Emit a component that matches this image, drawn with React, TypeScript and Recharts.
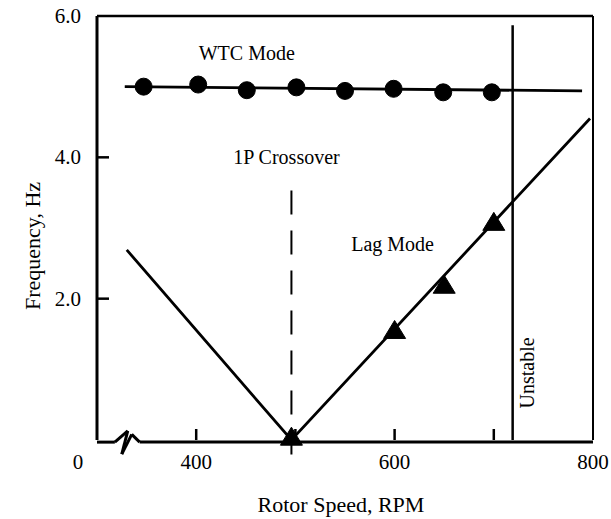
import React from 'react';
import { ComposedChart, Line, Scatter, XAxis, YAxis, ReferenceLine, ReferenceDot, Label } from 'recharts';

// ---- axis ticks ----
const rpmTicks = [300, 400, 500, 600, 700, 800];
const rpmTickLabels = ['0', '400', '', '600', '', '800'];
const freqTicks = [0, 2, 4, 6];
const freqTickLabels = ['', '2.0', '4.0', '6.0'];

// ---- WTC mode (measured points, circles) ----
const wtcRpm = [347, 402, 451, 501, 550, 599, 649, 698];
const wtcFreq = [5.0, 5.03, 4.95, 4.99, 4.94, 4.97, 4.92, 4.92];
// WTC fitted line
const wtcFitRpm = [328, 789];
const wtcFitFreq = [5.0, 4.94];

// ---- Lag mode ----
const lagRpm = [496, 600, 650, 700];
const lagFreq = [0.04, 1.55, 2.19, 3.08];
// 1P-crossing lag-mode line (V shape)
const lagLineRpm = [330, 496, 797];
const lagLineFreq = [2.69, 0, 4.55];

// ---- annotations ----
const crossoverRpm = 496;
const crossoverTop = 3.53;
const crossoverBottom = -0.24;
const unstableRpm = 719;
const unstableTop = 5.87;

// axis break (zig-zag) points on the RPM axis
const breakRpm = [300, 318, 331, 325, 335, 343, 800];
const breakFreq = [-0.03, -0.03, 0.13, -0.2, 0.08, -0.03, -0.03];

const FONT = '"Liberation Serif", "Times New Roman", serif';

const wtcData = wtcRpm.map((x, i) => ({ x, y: wtcFreq[i] }));
const wtcFitData = wtcFitRpm.map((x, i) => ({ x, y: wtcFitFreq[i] }));
const lagData = lagRpm.map((x, i) => ({ x, y: lagFreq[i] }));
const lagLineData = lagLineRpm.map((x, i) => ({ x, y: lagLineFreq[i] }));
const breakSegments = breakRpm.slice(1).map((x, i) => [
  { x: breakRpm[i], y: breakFreq[i] },
  { x, y: breakFreq[i + 1] },
]);

const XTick = (props: any) => {
  const { x, y, payload } = props;
  const v = payload.value;
  const label = rpmTickLabels[rpmTicks.indexOf(v)];
  const edge = v === rpmTicks[0] || v === rpmTicks[rpmTicks.length - 1];
  return (
    <g>
      {!edge && <line x1={x} x2={x} y1={y} y2={y - 11} stroke="#000" strokeWidth={2.5} />}
      <text x={v === rpmTicks[0] ? x - 19 : x} y={y + 29} textAnchor="middle" fontFamily={FONT} fontSize={21} fill="#000">
        {label}
      </text>
    </g>
  );
};

const YTick = (props: any) => {
  const { x, y, payload } = props;
  const v = payload.value;
  const label = freqTickLabels[freqTicks.indexOf(v)];
  const edge = v === freqTicks[0] || v === freqTicks[freqTicks.length - 1];
  return (
    <g>
      {!edge && <line x1={x} x2={x + 12} y1={y} y2={y} stroke="#000" strokeWidth={2.5} />}
      <text x={x - 16} y={y + 7} textAnchor="end" fontFamily={FONT} fontSize={21} fill="#000">
        {label}
      </text>
    </g>
  );
};

const YTitle = (props: any) => {
  const vb = props.viewBox;
  const cx = vb.x + 7;
  const cy = vb.y + vb.height / 2 + 18;
  return (
    <text transform={`translate(${cx},${cy}) rotate(-90)`} textAnchor="middle" fontFamily={FONT} fontSize={22} fill="#000">
      Frequency, Hz
    </text>
  );
};

const XTitle = (props: any) => {
  const vb = props.viewBox;
  return (
    <text x={vb.x + vb.width / 2 - 4} y={vb.y + 72} textAnchor="middle" fontFamily={FONT} fontSize={22} fill="#000">
      Rotor Speed, RPM
    </text>
  );
};

const renderDot = (props: any) => <circle cx={props.cx} cy={props.cy} r={8.5} fill="#000" stroke="#000" />;

const renderTri = (props: any) => {
  const { cx, cy } = props;
  const pts = `${cx},${cy - 10} ${cx + 11},${cy + 8} ${cx - 11},${cy + 8}`;
  return <polygon points={pts} fill="#000" stroke="#000" strokeWidth={1} />;
};

const textLabel = (value: string, angle = 0) => ({
  value,
  position: 'center' as const,
  angle,
  fontFamily: FONT,
  fontSize: 20,
  fill: '#000',
});

export default function App() {
  return (
    <div style={{ position: 'absolute', left: 0, top: 0, background: '#fff' }}>
      <ComposedChart width={611} height={519} margin={{ top: 16, right: 18, bottom: 49, left: 33 }}>
        <XAxis
          type="number"
          dataKey="x"
          domain={[300, 800]}
          ticks={rpmTicks}
          interval={0}
          tick={<XTick />}
          tickLine={false}
          axisLine={false}
          tickSize={0}
          tickMargin={0}
          height={30}
        >
          <Label content={<XTitle />} />
        </XAxis>
        <YAxis
          type="number"
          dataKey="y"
          domain={[0, 6]}
          ticks={freqTicks}
          interval={0}
          tick={<YTick />}
          tickLine={false}
          axisLine={{ stroke: '#000', strokeWidth: 3 }}
          tickSize={0}
          tickMargin={0}
          width={64}
        >
          <Label content={<YTitle />} />
        </YAxis>

        {/* frame: top and right borders */}
        <ReferenceLine y={6} stroke="#000" strokeWidth={2.5} ifOverflow="visible" />
        <ReferenceLine x={800} stroke="#000" strokeWidth={2} ifOverflow="visible" />
        {/* bottom axis with break */}
        {breakSegments.map((seg, i) => (
          <ReferenceLine key={`b${i}`} segment={seg} stroke="#000" strokeWidth={3} ifOverflow="visible" />
        ))}

        {/* 1P crossover dashed line */}
        <ReferenceLine
          segment={[{ x: crossoverRpm, y: crossoverTop }, { x: crossoverRpm, y: crossoverBottom }]}
          stroke="#000"
          strokeWidth={2}
          strokeDasharray="24 16"
          ifOverflow="visible"
        />
        {/* unstable boundary */}
        <ReferenceLine
          segment={[{ x: unstableRpm, y: unstableTop }, { x: unstableRpm, y: 0 }]}
          stroke="#000"
          strokeWidth={2.5}
          ifOverflow="visible"
        />

        <Line data={wtcFitData} dataKey="y" stroke="#000" strokeWidth={2.8} dot={false} isAnimationActive={false} />
        <Line data={lagLineData} dataKey="y" stroke="#000" strokeWidth={2.8} dot={false} isAnimationActive={false} />
        <Scatter data={wtcData} dataKey="y" fill="#000" shape={renderDot} isAnimationActive={false} />
        <Scatter data={lagData} dataKey="y" fill="#000" shape={renderTri} isAnimationActive={false} />

        <ReferenceDot x={451} y={5.48} r={0} stroke="none" fill="none" ifOverflow="visible" label={textLabel('WTC Mode')} />
        <ReferenceDot x={491} y={4.0} r={0} stroke="none" fill="none" ifOverflow="visible" label={textLabel('1P Crossover')} />
        <ReferenceDot x={598} y={2.78} r={0} stroke="none" fill="none" ifOverflow="visible" label={textLabel('Lag Mode')} />
        <ReferenceDot x={733} y={0.95} r={0} stroke="none" fill="none" ifOverflow="visible" label={textLabel('Unstable', -90)} />
      </ComposedChart>
    </div>
  );
}
